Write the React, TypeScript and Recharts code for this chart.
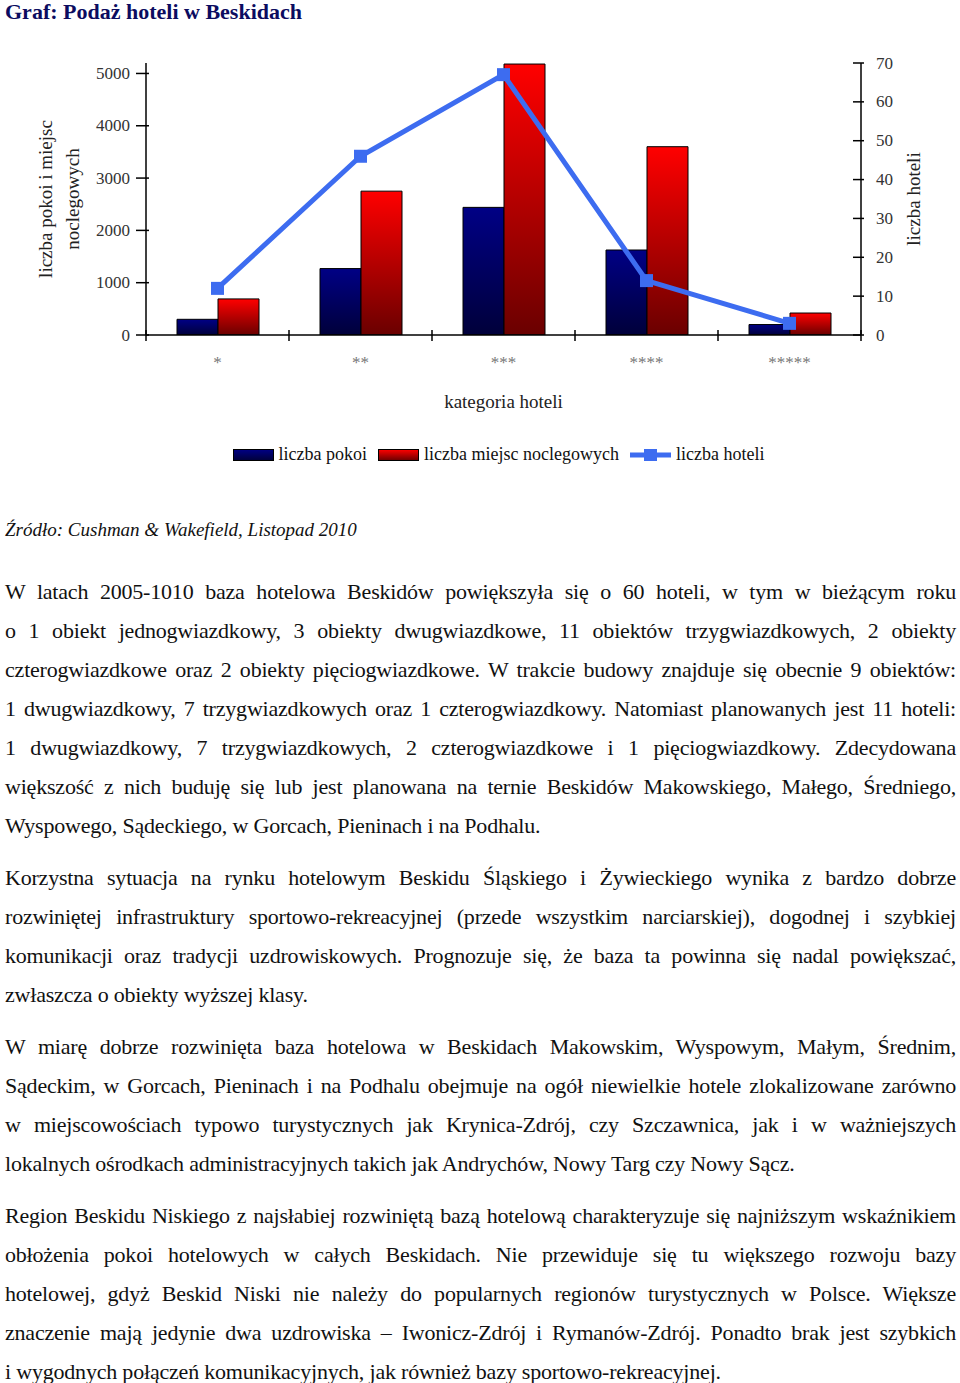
import { ComposedChart, Bar, Line, XAxis, YAxis, Legend } from 'recharts';

const categories = ['*', '**', '***', '****', '*****'];
const roomCounts = [300, 1270, 2440, 1625, 200];
const bedCounts = [690, 2750, 5180, 3600, 420];
const hotelCounts = [12, 46, 67, 14, 3];
const leftTicks = [0, 1000, 2000, 3000, 4000, 5000];
const rightTicks = [0, 10, 20, 30, 40, 50, 60, 70];
const legendOrder = ['pokoi', 'miejsca', 'hotele'];

const chartData = categories.map((cat, i) => ({
    cat,
    pokoi: roomCounts[i],
    miejsca: bedCounts[i],
    hotele: hotelCounts[i],
}));

const paragraphs = [
    [
        'W latach 2005-1010 baza hotelowa Beskidów powiększyła się o 60 hoteli, w tym w bieżącym roku',
        'o 1 obiekt jednogwiazdkowy, 3 obiekty dwugwiazdkowe, 11 obiektów trzygwiazdkowych, 2 obiekty',
        'czterogwiazdkowe oraz 2 obiekty pięciogwiazdkowe. W trakcie budowy znajduje się obecnie 9 obiektów:',
        '1 dwugwiazdkowy, 7 trzygwiazdkowych oraz 1 czterogwiazdkowy. Natomiast planowanych jest 11 hoteli:',
        '1 dwugwiazdkowy, 7 trzygwiazdkowych, 2 czterogwiazdkowe i 1 pięciogwiazdkowy. Zdecydowana',
        'większość z nich buduję się lub jest planowana na ternie Beskidów Makowskiego, Małego, Średniego,',
        'Wyspowego, Sądeckiego, w Gorcach, Pieninach i na Podhalu.',
    ],
    [
        'Korzystna sytuacja na rynku hotelowym Beskidu Śląskiego i Żywieckiego wynika z bardzo dobrze',
        'rozwiniętej infrastruktury sportowo-rekreacyjnej (przede wszystkim narciarskiej), dogodnej i szybkiej',
        'komunikacji oraz tradycji uzdrowiskowych. Prognozuje się, że baza ta powinna się nadal powiększać,',
        'zwłaszcza o obiekty wyższej klasy.',
    ],
    [
        'W miarę dobrze rozwinięta baza hotelowa w Beskidach Makowskim, Wyspowym, Małym, Średnim,',
        'Sądeckim, w Gorcach, Pieninach i na Podhalu obejmuje na ogół niewielkie hotele zlokalizowane zarówno',
        'w miejscowościach typowo turystycznych jak Krynica-Zdrój, czy Szczawnica, jak i w ważniejszych',
        'lokalnych ośrodkach administracyjnych takich jak Andrychów, Nowy Targ czy Nowy Sącz.',
    ],
    [
        'Region Beskidu Niskiego z najsłabiej rozwiniętą bazą hotelową charakteryzuje się najniższym wskaźnikiem',
        'obłożenia pokoi hotelowych w całych Beskidach. Nie przewiduje się tu większego rozwoju bazy',
        'hotelowej, gdyż Beskid Niski nie należy do popularnych regionów turystycznych w Polsce. Większe',
        'znaczenie mają jedynie dwa uzdrowiska – Iwonicz-Zdrój i Rymanów-Zdrój. Ponadto brak jest szybkich',
        'i wygodnych połączeń komunikacyjnych, jak również bazy sportowo-rekreacyjnej.',
    ],
];

const SERIF = '"Liberation Serif", "DejaVu Serif", serif';
const LINE_COLOR = '#3d6cf0';
const LEFT_W = 146;
const RIGHT_W = 99;
const CHART_W = 960;
const HALF_BAND = (CHART_W - LEFT_W - RIGHT_W) / categories.length / 2;

// ticks cross the axis line like in the Excel original
const LeftTick = (props: any) => {
    const { x, y, payload } = props;
    const ax = x + 16;
    return (
        <g>
            <line x1={ax - 10} x2={ax + 3} y1={y} y2={y} stroke="#000" strokeWidth={1.5} />
            <text x={x} y={y} textAnchor="end" dominantBaseline="central" fontSize={17} fill="#333" fontFamily={SERIF}>
                {payload.value}
            </text>
        </g>
    );
};

const RightTick = (props: any) => {
    const { x, y, payload } = props;
    const ax = x - 15;
    return (
        <g>
            <line x1={ax - 8} x2={ax + 3} y1={y} y2={y} stroke="#000" strokeWidth={1.5} />
            <text x={x} y={y} textAnchor="start" dominantBaseline="central" fontSize={17} fill="#333" fontFamily={SERIF}>
                {payload.value}
            </text>
        </g>
    );
};

const XTick = (props: any) => {
    const { x, y, payload, index } = props;
    const ay = y - 20;
    const half = payload.offset || HALF_BAND;
    return (
        <g>
            <line x1={x - half} x2={x - half} y1={ay - 5} y2={ay + 6} stroke="#000" strokeWidth={1.5} />
            {index === categories.length - 1 && (
                <line x1={x + half} x2={x + half} y1={ay - 5} y2={ay + 6} stroke="#000" strokeWidth={1.5} />
            )}
            <text x={x} y={ay + 27} textAnchor="middle" dominantBaseline="central" fontSize={17} fill="#777" fontFamily={SERIF}>
                {payload.value}
            </text>
        </g>
    );
};

const LeftLabel = (props: any) => {
    const vb = props.viewBox || { x: 0, y: 63, width: LEFT_W, height: 272 };
    const cy = vb.y + vb.height / 2;
    const x1 = vb.x + 45;
    const x2 = vb.x + 72;
    return (
        <g fontFamily={SERIF} fontSize={19} fill="#222">
            <text x={x1} y={cy} textAnchor="middle" dominantBaseline="central" transform={`rotate(-90 ${x1} ${cy})`}>
                liczba pokoi i miejsc
            </text>
            <text x={x2} y={cy} textAnchor="middle" dominantBaseline="central" transform={`rotate(-90 ${x2} ${cy})`}>
                noclegowych
            </text>
        </g>
    );
};

const RightLabel = (props: any) => {
    const vb = props.viewBox || { x: CHART_W - RIGHT_W, y: 63, width: RIGHT_W, height: 272 };
    const cy = vb.y + vb.height / 2;
    const x = vb.x + 52;
    return (
        <text x={x} y={cy} textAnchor="middle" dominantBaseline="central" transform={`rotate(-90 ${x} ${cy})`}
            fontFamily={SERIF} fontSize={19} fill="#222">
            liczba hoteli
        </text>
    );
};

const XLabel = (props: any) => {
    const vb = props.viewBox || { x: LEFT_W, y: 335, width: CHART_W - LEFT_W - RIGHT_W, height: 100 };
    return (
        <text x={vb.x + vb.width / 2} y={vb.y + 66} textAnchor="middle" dominantBaseline="central"
            fontFamily={SERIF} fontSize={19} fill="#222">
            kategoria hoteli
        </text>
    );
};

const SquareDot = (props: any) => {
    const { cx, cy, index } = props;
    return <rect key={`dot-${index}`} x={cx - 6.5} y={cy - 6.5} width={13} height={13} fill={LINE_COLOR} />;
};

const Swatch = ({ kind }: { kind: string }) => {
    if (kind === 'hotele') {
        return (
            <svg width={41} height={14}>
                <line x1={0} x2={41} y1={7} y2={7} stroke={LINE_COLOR} strokeWidth={5} />
                <rect x={14} y={1} width={13} height={12} fill={LINE_COLOR} />
            </svg>
        );
    }
    const id = kind === 'pokoi' ? 'lgBlue' : 'lgRed';
    const top = kind === 'pokoi' ? '#000085' : '#ff0000';
    const bottom = kind === 'pokoi' ? '#00003a' : '#6a0000';
    return (
        <svg width={41} height={12}>
            <defs>
                <linearGradient id={id} x1="0" y1="0" x2="0" y2="1">
                    <stop offset="0%" stopColor={top} />
                    <stop offset="100%" stopColor={bottom} />
                </linearGradient>
            </defs>
            <rect x={0.5} y={0.5} width={40} height={11} fill={`url(#${id})`} stroke="#000" />
        </svg>
    );
};

const LegendContent = (props: any) => {
    const items = [...(props.payload || [])].sort(
        (a: any, b: any) => legendOrder.indexOf(a.dataKey) - legendOrder.indexOf(b.dataKey),
    );
    return (
        <div style={{ display: 'flex', justifyContent: 'center', alignItems: 'center', fontFamily: SERIF, fontSize: 18, color: '#111' }}>
            {items.map((entry: any) => (
                <div key={entry.dataKey} style={{ display: 'flex', alignItems: 'center', marginRight: 11 }}>
                    <Swatch kind={entry.dataKey} />
                    <span style={{ marginLeft: 5 }}>{entry.value}</span>
                </div>
            ))}
        </div>
    );
};

export default function App() {
    return (
        <div style={{ position: 'absolute', left: 0, top: 0, width: 960, height: 1383, background: '#fff', fontFamily: SERIF, color: '#111' }}>
            <div style={{ position: 'absolute', left: 5, top: 0, fontSize: 22, lineHeight: '24px', fontWeight: 'bold', color: '#0c0c60' }}>
                Graf: Podaż hoteli w Beskidach
            </div>
            <div style={{ position: 'absolute', left: 0, top: 0 }}>
                <ComposedChart width={CHART_W} height={480} data={chartData} barGap={0}
                    margin={{ top: 63, right: 0, bottom: 45, left: 0 }}>
                    <defs>
                        <linearGradient id="gradBlue" x1="0" y1="0" x2="0" y2="1">
                            <stop offset="0%" stopColor="#000085" />
                            <stop offset="100%" stopColor="#00003a" />
                        </linearGradient>
                        <linearGradient id="gradRed" x1="0" y1="0" x2="0" y2="1">
                            <stop offset="0%" stopColor="#ff0000" />
                            <stop offset="100%" stopColor="#6a0000" />
                        </linearGradient>
                    </defs>
                    <XAxis dataKey="cat" height={100} tickSize={0} tickMargin={20} tickLine={false}
                        axisLine={{ stroke: '#000', strokeWidth: 1.5 }} tick={<XTick />} label={<XLabel />} interval={0} />
                    <YAxis yAxisId="left" width={LEFT_W} domain={[0, 5200]} ticks={leftTicks} tickSize={0} tickMargin={16}
                        tickLine={false} axisLine={{ stroke: '#000', strokeWidth: 1.5 }} tick={<LeftTick />} label={<LeftLabel />}
                        allowDataOverflow />
                    <YAxis yAxisId="right" orientation="right" width={RIGHT_W} domain={[0, 70]} ticks={rightTicks} tickSize={0}
                        tickMargin={15} tickLine={false} axisLine={{ stroke: '#000', strokeWidth: 1.5 }} tick={<RightTick />}
                        label={<RightLabel />} />
                    <Legend verticalAlign="middle" align="center" layout="horizontal" content={<LegendContent />}
                        wrapperStyle={{ top: 444, left: 47, width: 914 }} />
                    <Bar yAxisId="left" dataKey="pokoi" name="liczba pokoi" fill="url(#gradBlue)" stroke="#000" strokeWidth={1}
                        barSize={41} isAnimationActive={false} />
                    <Bar yAxisId="left" dataKey="miejsca" name="liczba miejsc noclegowych" fill="url(#gradRed)" stroke="#000"
                        strokeWidth={1} barSize={41} isAnimationActive={false} />
                    <Line yAxisId="right" dataKey="hotele" name="liczba hoteli" type="linear" stroke={LINE_COLOR} strokeWidth={5}
                        dot={<SquareDot />} activeDot={false} isAnimationActive={false} />
                </ComposedChart>
            </div>
            <div style={{ position: 'absolute', left: 5, top: 517, fontSize: 19, lineHeight: '26px', fontStyle: 'italic' }}>
                Źródło: Cushman &amp; Wakefield, Listopad 2010
            </div>
            <div style={{ position: 'absolute', left: 5, top: 572, width: 951, fontSize: 22, letterSpacing: -0.2 }}>
                {paragraphs.map((lines, pi) => (
                    <div key={pi} style={{ marginBottom: 13 }}>
                        {lines.map((line, li) => (
                            <div key={li} style={{
                                height: 39,
                                lineHeight: '39px',
                                textAlign: li === lines.length - 1 ? 'left' : 'justify',
                                textAlignLast: li === lines.length - 1 ? 'left' : 'justify',
                            }}>
                                {line}
                            </div>
                        ))}
                    </div>
                ))}
            </div>
        </div>
    );
}
